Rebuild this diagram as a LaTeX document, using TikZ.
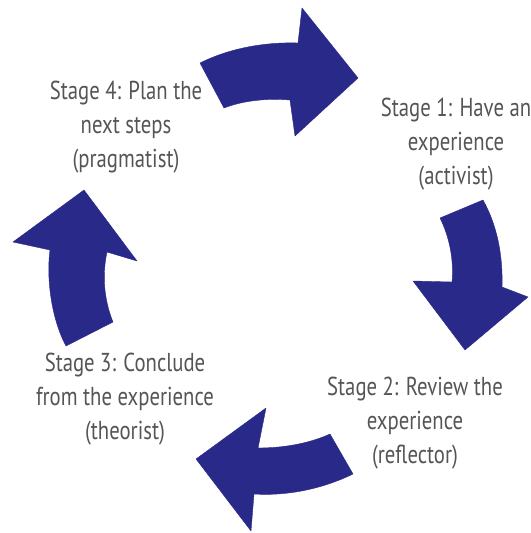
\documentclass[tikz,border=0pt]{standalone}
\usepackage{fontspec}
\setmainfont{PT Sans}
\newfontfamily\stagefont{PT Sans}[FakeStretch=0.8]
\usepackage{xcolor}
\usepackage{tikz}
\definecolor{arrowblue}{RGB}{41,41,138}
\definecolor{stagegray}{RGB}{85,85,85}

\begin{document}
\begin{tikzpicture}[x=1bp, y=-1bp,
    stagetext/.style={align=center, text=stagegray, font=\stagefont\fontsize{26}{34}\selectfont},
    cyclearrow/.style={fill=arrowblue, draw=arrowblue, line join=round}]
        % Frame of the picture
        \useasboundingbox (0,0) rectangle (531,533);
        \clip (0,0) rectangle (531,533);
        \fill[white] (0,0) rectangle (531,533);

        % Define the nodes
        \node[stagetext] (stage1) at (456,144) {Stage 1: Have an\\experience\\(activist)};
        \node[stagetext] (stage2) at (415,423) {Stage 2: Review the\\experience\\(reflector)};
        \node[stagetext] (stage3) at (125,399) {Stage 3: Conclude\\from the experience\\(theorist)};
        \node[stagetext] (stage4) at (126,127) {Stage 4: Plan the\\next steps\\(pragmatist)};

        % Draw the arrows
        \fill[cyclearrow] (200,63) .. controls (230,48) and (265,42) .. (298,43)
            -- (302,8) -- (358,78) -- (295,136) -- (290,100)
            .. controls (265,98) and (242,101) .. (224,108) -- cycle;
        \fill[cyclearrow] (483,200) .. controls (497,225) and (503,255) .. (502,287)
            -- (528,297) -- (465,350) -- (413,281) -- (452,282)
            .. controls (454,262) and (450,238) .. (440,218) -- cycle;
        \fill[cyclearrow] (353,474) .. controls (320,490) and (285,496) .. (254,494)
            -- (251,531) -- (196,459) -- (266,408) -- (258,448)
            .. controls (282,448) and (308,444) .. (330,434) -- cycle;
        \fill[cyclearrow] (66,346) .. controls (52,320) and (46,280) .. (50,250)
            -- (13,242) -- (84,190) -- (137,261) -- (107,252)
            .. controls (102,275) and (104,300) .. (113,322) -- cycle;
    \end{tikzpicture}
\end{document}
